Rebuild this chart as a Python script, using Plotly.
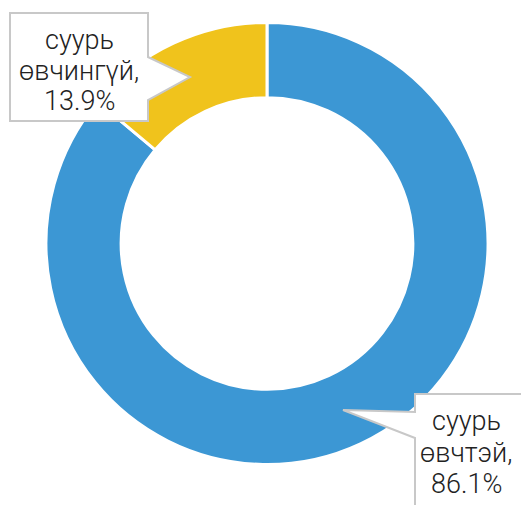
import plotly.graph_objects as go

# Data
categories = ["суурь өвчтэй", "суурь өвчингүй"]
label_lines = [["суурь", "өвчтэй,"], ["суурь", "өвчингүй,"]]
values = [86.1, 13.9]
colors = ["#3c97d4", "#f0c31c"]

W, H = 521, 505

def px(x, y):
    return x / W, 1 - y / H

fig = go.Figure(go.Pie(
    labels=categories,
    values=values,
    marker=dict(colors=colors, line=dict(color="white", width=3)),
    hole=0.66,
    sort=False,
    direction="counterclockwise",
    rotation=0,
    textinfo="none",
    hoverinfo="label+percent",
    showlegend=False,
    domain=dict(x=[46 / W, 488 / W], y=[40.5 / H, 482.5 / H]),
))

def path_from(points):
    parts = []
    for i, (x, y) in enumerate(points):
        xp, yp = px(x, y)
        parts.append(("M" if i == 0 else "L") + f"{xp:.5f},{yp:.5f}")
    return " ".join(parts) + " Z"

box_yellow = [(10, 13), (148, 13), (148, 57), (190, 77), (148, 100), (148, 121), (10, 121)]
box_blue = [(415, 394), (530, 394), (530, 515), (415, 515), (415, 438), (343, 410), (415, 412)]

shapes = []
for pts in (box_blue, box_yellow):
    shapes.append(dict(type="path", xref="paper", yref="paper", path=path_from(pts),
                       fillcolor="white", line=dict(color="#c8c8c8", width=2), layer="above"))

font = dict(family="Roboto", size=27, color="#222222", weight=300)
annotations = []
label_pos = [(466, [421, 453, 484]), (79, [40, 71, 101])]
for (cx, ys), lines, v in zip(label_pos, label_lines, values):
    texts = lines + [f"{v}%"]
    for t, y in zip(texts, ys):
        xp, yp = px(cx, y)
        annotations.append(dict(text=t, x=xp, y=yp, xref="paper", yref="paper",
                                showarrow=False, xanchor="center", yanchor="middle", font=font))

fig.update_layout(
    width=W, height=H,
    margin=dict(l=0, r=0, t=0, b=0),
    paper_bgcolor="white", plot_bgcolor="white",
    shapes=shapes, annotations=annotations,
)

fig.write_html("out.html", config={"displayModeBar": False},
               post_script="document.body.style.margin='0';document.body.style.padding='0';")
